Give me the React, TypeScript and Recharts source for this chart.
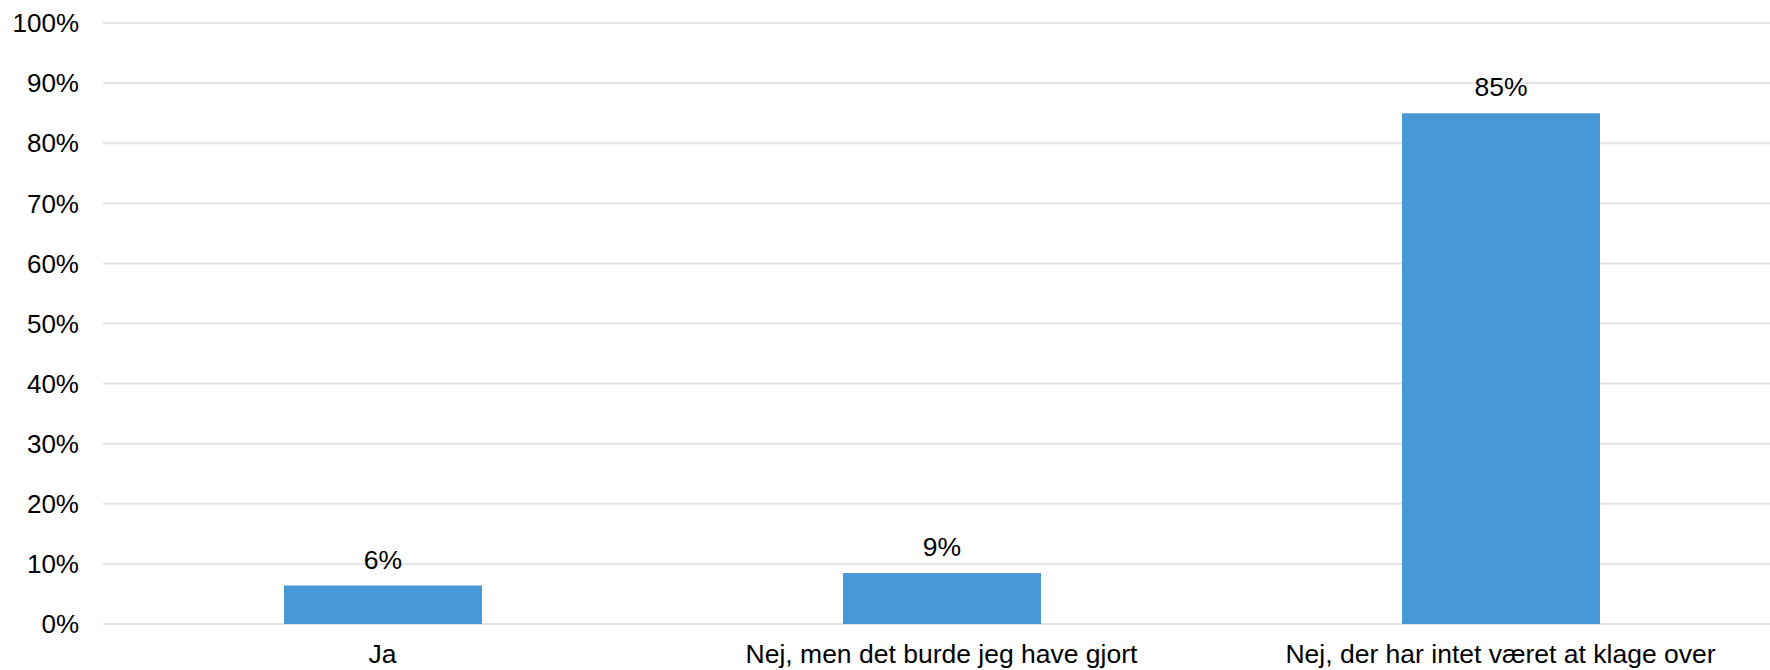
import { BarChart, Bar, XAxis, YAxis, CartesianGrid, LabelList } from 'recharts';

const categories = ['Ja', 'Nej, men det burde jeg have gjort', 'Nej, der har intet været at klage over'];
const shares = [6.4, 8.5, 85.0];
const yTicks = [0, 10, 20, 30, 40, 50, 60, 70, 80, 90, 100];

const data = categories.map((name, i) => ({ name, value: shares[i] }));

const font = '"Liberation Sans", Arial, sans-serif';

export default function App() {
  return (
    <div style={{ position: 'absolute', left: 0, top: 0, width: 1770, height: 670, overflow: 'hidden', background: '#fff' }}>
      <BarChart
        width={1780}
        height={670}
        data={data}
        margin={{ top: 23, right: 0, bottom: 0, left: 0 }}
        style={{ fontFamily: font }}
      >
        <CartesianGrid vertical={false} stroke="#e4e4e4" strokeWidth={2} />
        <XAxis
          dataKey="name"
          height={46}
          axisLine={false}
          tickLine={false}
          tickSize={0}
          tickMargin={20}
          interval={0}
          tick={{ fill: '#000', fontSize: 26.5, fontFamily: font }}
        />
        <YAxis
          width={103}
          domain={[0, 100]}
          ticks={yTicks}
          tickFormatter={(v: number) => `${v}%`}
          axisLine={false}
          tickLine={false}
          tickSize={0}
          tickMargin={24}
          tick={{ fill: '#000', fontSize: 26, fontFamily: font }}
        />
        <Bar dataKey="value" fill="#4898d8" barSize={198} isAnimationActive={false}>
          <LabelList
            dataKey="value"
            position="top"
            offset={17}
            formatter={(v: number) => `${Math.round(v)}%`}
            style={{ fill: '#000', fontSize: 26.5, fontFamily: font }}
          />
        </Bar>
      </BarChart>
    </div>
  );
}
